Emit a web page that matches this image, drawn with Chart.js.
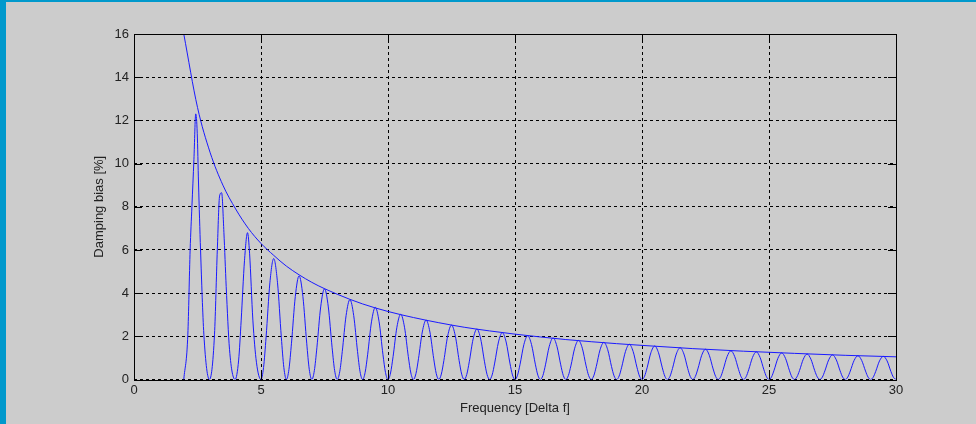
<!DOCTYPE html>
<html>
<head>
<meta charset="utf-8">
<title>Damping bias</title>
<script src="https://cdn.jsdelivr.net/npm/chart.js@4.4.0/dist/chart.umd.min.js"></script>
<style>
  html, body { margin: 0; padding: 0; }
  body { width: 976px; height: 424px; background: #cccccc; position: relative; overflow: hidden; }
  #franjaArriba { position: absolute; left: 0; top: 0; width: 976px; height: 2px; background: #0099cc; }
  #franjaIzq { position: absolute; left: 0; top: 0; width: 6px; height: 424px; background: #0099cc; }
  canvas { position: absolute; left: 0; top: 0; }
</style>
</head>
<body>
<div id="franjaArriba"></div>
<div id="franjaIzq"></div>
<canvas id="graficoBias" width="976" height="424"></canvas>
<script>
// tick labels
var xTicks = [0, 5, 10, 15, 20, 25, 30];
var yTicks = [0, 2, 4, 6, 8, 10, 12, 14, 16];

// envelope curve
var envFreq = [1.96, 2.5, 3, 3.5, 4, 4.5, 5, 5.5, 6, 7, 8, 9, 10, 11, 12, 13, 14, 15,
               16, 17, 18, 19, 20, 22, 24, 26, 28, 30];
var envBias = [16, 12.6, 10.5, 9.0, 7.9, 7.0, 6.3, 5.75, 5.25, 4.5, 3.95, 3.5, 3.15, 2.87, 2.63, 2.42, 2.25, 2.1,
               1.97, 1.85, 1.75, 1.66, 1.58, 1.43, 1.31, 1.21, 1.12, 1.05];

// oscillating bias curve, one lobe per line
var lobeFreq = [
  1.96, 2.12, 2.21, 2.28, 2.36, 2.43, 2.49, 2.54, 2.62, 2.75, 2.97,
  3.17, 3.28, 3.37, 3.45, 3.54, 3.63, 3.76, 3.98,
  4.12, 4.22, 4.35, 4.47, 4.55, 4.68, 4.82, 5,
  5.1, 5.2, 5.35, 5.5, 5.65, 5.8, 5.9, 6,
  6.1, 6.2, 6.35, 6.5, 6.65, 6.8, 6.9, 7,
  7.1, 7.2, 7.35, 7.5, 7.65, 7.8, 7.9, 8,
  8.1, 8.2, 8.35, 8.5, 8.65, 8.8, 8.9, 9,
  9.1, 9.2, 9.35, 9.5, 9.65, 9.8, 9.9, 10,
  10.1, 10.2, 10.35, 10.5, 10.65, 10.8, 10.9, 11,
  11.1, 11.2, 11.35, 11.5, 11.65, 11.8, 11.9, 12,
  12.1, 12.2, 12.35, 12.5, 12.65, 12.8, 12.9, 13,
  13.1, 13.2, 13.35, 13.5, 13.65, 13.8, 13.9, 14,
  14.1, 14.2, 14.35, 14.5, 14.65, 14.8, 14.9, 15,
  15.1, 15.2, 15.35, 15.5, 15.65, 15.8, 15.9, 16,
  16.1, 16.2, 16.35, 16.5, 16.65, 16.8, 16.9, 17,
  17.1, 17.2, 17.35, 17.5, 17.65, 17.8, 17.9, 18,
  18.1, 18.2, 18.35, 18.5, 18.65, 18.8, 18.9, 19,
  19.1, 19.2, 19.35, 19.5, 19.65, 19.8, 19.9, 20,
  20.1, 20.2, 20.35, 20.5, 20.65, 20.8, 20.9, 21,
  21.1, 21.2, 21.35, 21.5, 21.65, 21.8, 21.9, 22,
  22.1, 22.2, 22.35, 22.5, 22.65, 22.8, 22.9, 23,
  23.1, 23.2, 23.35, 23.5, 23.65, 23.8, 23.9, 24,
  24.1, 24.2, 24.35, 24.5, 24.65, 24.8, 24.9, 25,
  25.1, 25.2, 25.35, 25.5, 25.65, 25.8, 25.9, 26,
  26.1, 26.2, 26.35, 26.5, 26.65, 26.8, 26.9, 27,
  27.1, 27.2, 27.35, 27.5, 27.65, 27.8, 27.9, 28,
  28.1, 28.2, 28.35, 28.5, 28.65, 28.8, 28.9, 29,
  29.1, 29.2, 29.35, 29.5, 29.65, 29.8, 29.9, 30
];
var lobeBias = [
  0, 2.1, 6.0, 8.0, 10.2, 12.3, 11.4, 9.1, 6.0, 2.1, 0,
  2.1, 6.0, 8.5, 8.65, 6.8, 4.3, 1.4, 0,
  0.9, 2.75, 5.5, 6.8, 5.85, 2.75, 0.8, 0,
  0.55, 1.96, 4.48, 5.6, 4.48, 1.96, 0.55, 0,
  0.47, 1.68, 3.84, 4.8, 3.84, 1.68, 0.47, 0,
  0.41, 1.47, 3.36, 4.2, 3.36, 1.47, 0.41, 0,
  0.36, 1.30, 2.96, 3.7, 2.96, 1.30, 0.36, 0,
  0.33, 1.17, 2.67, 3.34, 2.67, 1.17, 0.33, 0,
  0.30, 1.06, 2.42, 3.02, 2.42, 1.06, 0.30, 0,
  0.27, 0.96, 2.20, 2.75, 2.20, 0.96, 0.27, 0,
  0.25, 0.88, 2.02, 2.52, 2.02, 0.88, 0.25, 0,
  0.23, 0.82, 1.87, 2.34, 1.87, 0.82, 0.23, 0,
  0.21, 0.76, 1.74, 2.17, 1.74, 0.76, 0.21, 0,
  0.20, 0.71, 1.62, 2.03, 1.62, 0.71, 0.20, 0,
  0.19, 0.68, 1.54, 1.93, 1.54, 0.68, 0.19, 0,
  0.18, 0.63, 1.45, 1.81, 1.45, 0.63, 0.18, 0,
  0.17, 0.60, 1.38, 1.72, 1.38, 0.60, 0.17, 0,
  0.16, 0.57, 1.30, 1.63, 1.30, 0.57, 0.16, 0,
  0.15, 0.54, 1.24, 1.55, 1.24, 0.54, 0.15, 0,
  0.14, 0.51, 1.18, 1.47, 1.18, 0.51, 0.14, 0,
  0.14, 0.49, 1.12, 1.40, 1.12, 0.49, 0.14, 0,
  0.13, 0.47, 1.06, 1.33, 1.06, 0.47, 0.13, 0,
  0.13, 0.45, 1.02, 1.28, 1.02, 0.45, 0.13, 0,
  0.12, 0.43, 0.98, 1.23, 0.98, 0.43, 0.12, 0,
  0.12, 0.41, 0.94, 1.18, 0.94, 0.41, 0.12, 0,
  0.11, 0.40, 0.91, 1.14, 0.91, 0.40, 0.11, 0,
  0.11, 0.39, 0.88, 1.10, 0.88, 0.39, 0.11, 0,
  0.10, 0.37, 0.86, 1.07, 0.86, 0.37, 0.10, 0
];

function puntos(xs, ys) {
    return xs.map(function (x, i) { return { x: x, y: ys[i] }; });
}

var fuente = { family: '"Liberation Sans", Arial, sans-serif', size: 13 };

// frame + inward tick marks on all four sides (matlab style)
var marcoEjes = {
    id: 'marcoEjes',
    afterDatasetsDraw: function (chart) {
        var ctx = chart.ctx;
        var a = chart.chartArea;
        var sx = chart.scales.x, sy = chart.scales.y;
        var largo = 8;
        ctx.save();
        ctx.strokeStyle = '#000';
        ctx.lineWidth = 1;
        ctx.setLineDash([]);
        ctx.beginPath();
        xTicks.forEach(function (v) {
            var px = Math.round(sx.getPixelForValue(v)) + 0.5;
            ctx.moveTo(px, a.bottom); ctx.lineTo(px, a.bottom - largo);
            ctx.moveTo(px, a.top); ctx.lineTo(px, a.top + largo);
        });
        yTicks.forEach(function (v) {
            var py = Math.round(sy.getPixelForValue(v)) + 0.5;
            ctx.moveTo(a.left, py); ctx.lineTo(a.left + largo, py);
            ctx.moveTo(a.right, py); ctx.lineTo(a.right - largo, py);
        });
        ctx.stroke();
        ctx.strokeRect(Math.round(a.left) + 0.5, Math.round(a.top) + 0.5,
                       Math.round(a.right - a.left), Math.round(a.bottom - a.top));
        ctx.restore();
    }
};

var ctx = document.getElementById('graficoBias').getContext('2d');
var chart = new Chart(ctx, {
    type: 'line',
    data: {
        datasets: [{
            label: 'envelope',
            data: puntos(envFreq, envBias),
            borderColor: '#1a1aff',
            borderWidth: 1,
            pointRadius: 0,
            fill: false,
            cubicInterpolationMode: 'monotone'
        }, {
            label: 'bias',
            data: puntos(lobeFreq, lobeBias),
            borderColor: '#1a1aff',
            borderWidth: 1,
            pointRadius: 0,
            fill: false,
            cubicInterpolationMode: 'monotone'
        }]
    },
    options: {
        responsive: false,
        devicePixelRatio: 1,
        animation: false,
        layout: { padding: { left: 88, top: 34, right: 80, bottom: 8 } },
        plugins: {
            legend: { display: false },
            tooltip: { enabled: false }
        },
        scales: {
            x: {
                type: 'linear',
                min: 0,
                max: 30,
                afterBuildTicks: function (scale) {
                    scale.ticks = xTicks.map(function (v) { return { value: v }; });
                },
                afterFit: function (scale) { scale.height = 36.5; },
                grid: { color: '#000', lineWidth: 1, drawTicks: false },
                border: { display: false, dash: [3, 3] },
                ticks: { color: '#222', font: fuente, padding: 3, maxRotation: 0 },
                title: {
                    display: true,
                    text: 'Frequency [Delta f]',
                    color: '#222',
                    font: fuente,
                    padding: { top: 0, bottom: 0 }
                }
            },
            y: {
                type: 'linear',
                min: 0,
                max: 16,
                afterBuildTicks: function (scale) {
                    scale.ticks = yTicks.map(function (v) { return { value: v }; });
                },
                afterFit: function (scale) { scale.width = 46; },
                grid: { color: '#000', lineWidth: 1, drawTicks: false },
                border: { display: false, dash: [3, 3] },
                ticks: { color: '#222', font: fuente, padding: 5 },
                title: {
                    display: true,
                    text: 'Damping bias [%]',
                    color: '#222',
                    font: fuente,
                    padding: { top: 4, bottom: 0 }
                }
            }
        }
    },
    plugins: [marcoEjes]
});
</script>
</body>
</html>
